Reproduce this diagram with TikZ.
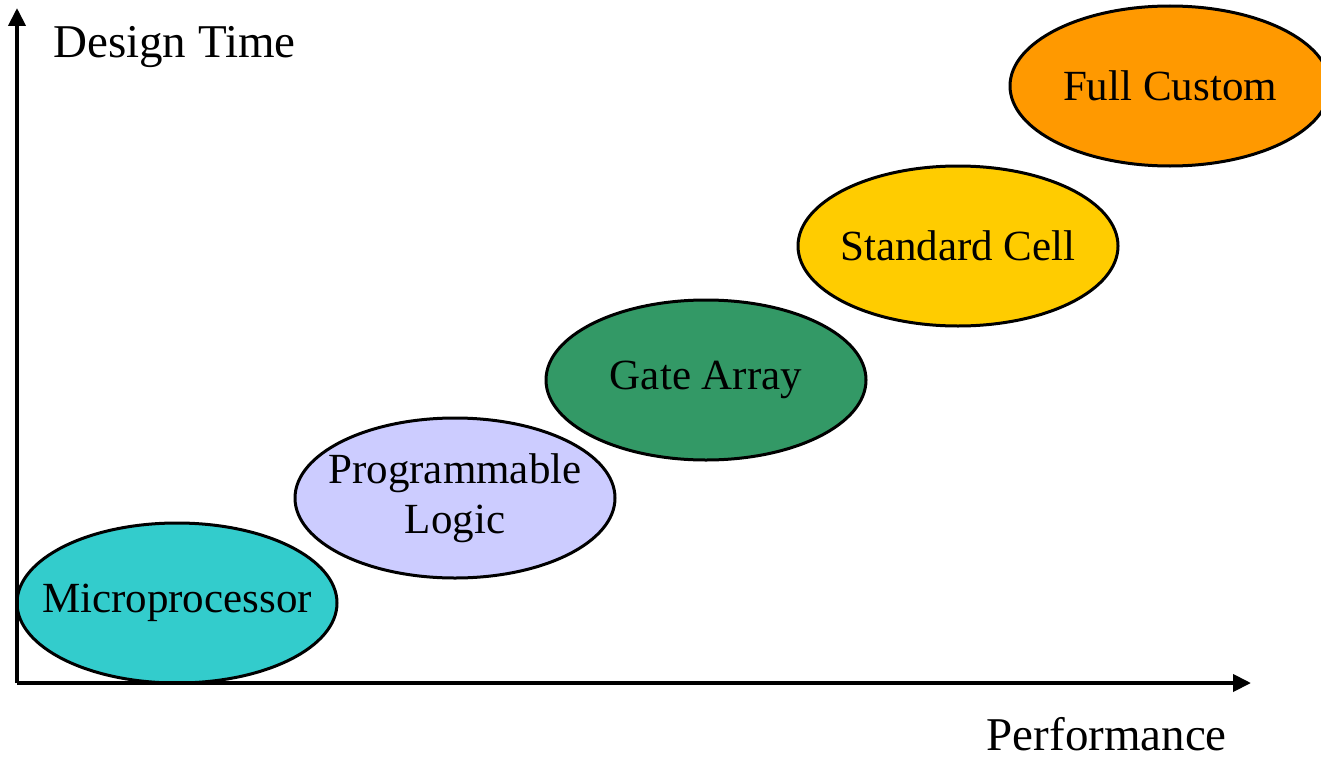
\documentclass[tikz,border=0pt]{standalone}
\usepackage{fontspec}
\setmainfont{Liberation Serif}
\usetikzlibrary{shapes.geometric,arrows.meta}
\definecolor{cMicro}{HTML}{33CCCC}
\definecolor{cProg}{HTML}{CCCCFF}
\definecolor{cGate}{HTML}{339966}
\definecolor{cStd}{HTML}{FFCC00}
\definecolor{cFull}{HTML}{FF9900}
\tikzset{
  blob/.style={ellipse, draw=black, line width=3pt, minimum width=320pt, minimum height=160pt, inner sep=0pt},
  blobtext/.style={align=center, inner sep=0pt, font=\fontsize{43}{50}\selectfont},
  axis/.style={line width=4pt, -{Triangle[length=18pt,width=17pt]}},
  lbl/.style={font=\fontsize{47}{52}\selectfont, inner sep=0pt}
}
\begin{document}
\begin{tikzpicture}[x=1pt,y=-1pt]
\useasboundingbox (0,0) rectangle (1321,760);
\begin{scope}
\clip (0,0) rectangle (1321,760);
\node[blob, fill=cFull] (full) at (1170,86) {};
\end{scope}
\node[blobtext] (fullt) at (full.center) {Full Custom};
\node[blob, fill=cStd] (std) at (958,246) {};
\node[blobtext] (stdt) at (std.center) {Standard Cell};
\node[blob, fill=cGate] (gate) at (706,380) {};
\node[blobtext] (gatet) at (gate.center) {Gate Array};
\node[blob, fill=cProg] (prog) at (455,498) {};
\node[blobtext] (progt) at (prog.center) {Programmable\\Logic};
\node[blob, fill=cMicro] (micro) at (177,603) {};
\node[blobtext] (microt) at (micro.center) {Microprocessor};
\coordinate (o) at (17,683);
\coordinate (ytip) at (17,8);
\coordinate (xtip) at (1251,683);
\draw[axis] (o) -- (ytip);
\draw[axis] (o) -- (xtip);
\node[lbl, anchor=base west] (ylab) at (53,58) {Design Time};
\node[lbl, anchor=base east, text depth=0pt] (xlab) at (1227,750) {Performance};
\end{tikzpicture}
\end{document}
